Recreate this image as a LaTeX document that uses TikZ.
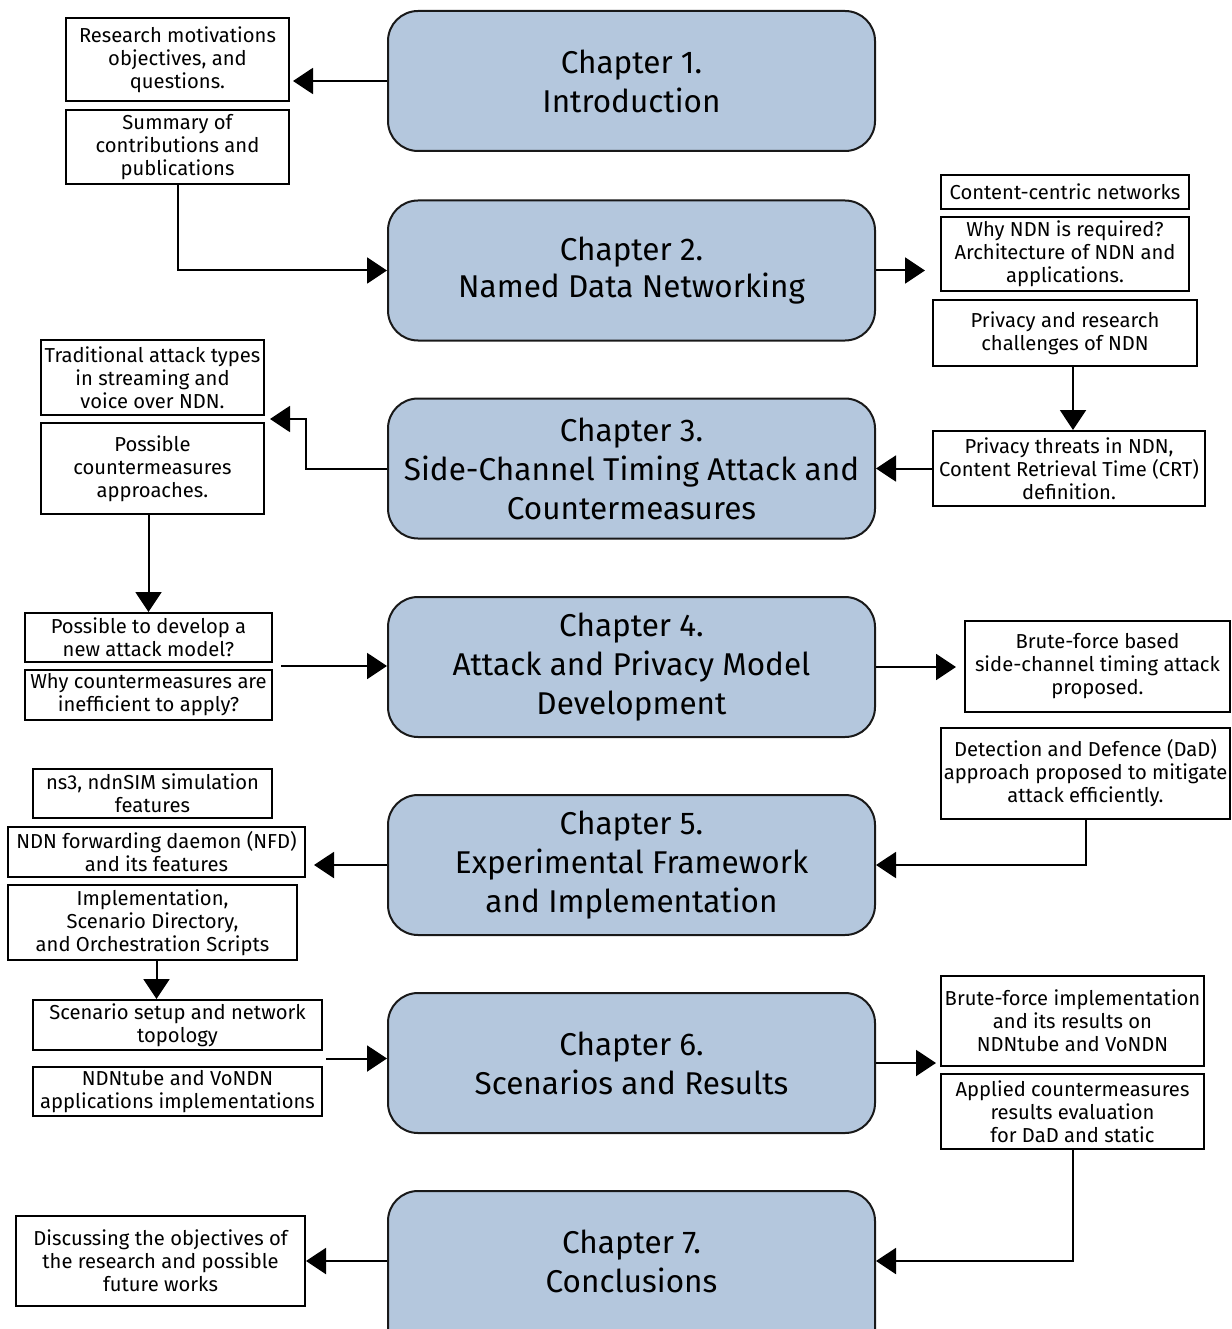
\documentclass[tikz,border=0pt]{standalone}
\usepackage{fontspec}
\setmainfont{Fira Sans}
\usetikzlibrary{arrows.meta,calc}
\definecolor{chapblue}{HTML}{B4C7DD}
\tikzset{
  chap/.style={draw=black!90, line width=2pt, fill=chapblue, rounded corners=30pt,
    minimum width=487pt, minimum height=140pt, inner sep=0pt, align=center,
    font=\fontsize{31.5}{39}\selectfont},
  chaptext/.style={inner sep=0pt, align=center, font=\fontsize{31.5}{39}\selectfont},
  sbox/.style={draw=black, line width=2pt, fill=white, inner sep=0pt, align=center,
    font=\fontsize{20.2}{23}\selectfont},
  arr/.style={line width=2pt, -{Triangle[length=20pt,width=26pt]}},
}
\begin{document}
\begin{tikzpicture}[x=1pt,y=-1pt]
\useasboundingbox (0,0) rectangle (1231,1329);

% chapter boxes
\node[chap] (c1) at (631.5,81) {Chapter 1.\\Introduction};
\node[chap] (c2) at (631.5,270.5) {Chapter 2.\\[-2pt]Named Data Networking};
\node[chap] (c3) at (631.5,468.5) {Chapter 3.\\Side-Channel Timing Attack and\\Countermeasures};
\node[chap] (c4) at (631.5,667) {Chapter 4.\\Attack and Privacy Model\\Development};
\node[chap] (c5) at (631.5,865) {Chapter 5.\\Experimental Framework\\and Implementation};
\node[chap] (c6) at (631.5,1063) {Chapter 6.\\Scenarios and Results};
\node[chap, minimum height=180pt] (c7) at (631.5,1281) {};
\node[chaptext] (c7t) at (631.5,1261) {Chapter 7.\\Conclusions};

% chapter 1
\node[sbox, minimum width=223pt, minimum height=83pt] (rm) at (177.5,59.5)
  {Research motivations\\objectives, and\\questions.};
\node[sbox, minimum width=223pt, minimum height=74pt] (sum) at (177.5,147)
  {Summary of\\contributions and\\publications};

% chapter 2
\node[sbox, minimum width=248pt, minimum height=34pt] (ccn) at (1065,192)
  {Content-centric networks};
\node[sbox, minimum width=248pt, minimum height=74pt] (why) at (1065,254)
  {Why NDN is required?\\Architecture of NDN and\\applications.};
\node[sbox, minimum width=264pt, minimum height=66pt] (priv) at (1065,333)
  {Privacy and research\\challenges of NDN};

% chapter 3
\node[sbox, minimum width=272pt, minimum height=75pt] (thr) at (1069,468.5)
  {Privacy threats in NDN,\\Content Retrieval Time (CRT)\\definition.};
\node[sbox, minimum width=223pt, minimum height=75pt] (trad) at (152.5,377.5)
  {Traditional attack types\\in streaming and\\voice over NDN.};
\node[sbox, minimum width=223pt, minimum height=91pt] (poss) at (152.5,468.5)
  {Possible\\countermeasures\\approaches.};

% chapter 4
\node[sbox, minimum width=247pt, minimum height=49pt] (dev) at (148.5,637.5)
  {Possible to develop a\\new attack model?};
\node[sbox, minimum width=247pt, minimum height=50pt] (ineff) at (148.5,695)
  {Why countermeasures are\\inefficient to apply?};
\node[sbox, minimum width=265pt, minimum height=91pt] (bf) at (1097.5,666.5)
  {Brute-force based\\side-channel timing attack\\proposed.};

% chapter 5
\node[sbox, minimum width=289pt, minimum height=91pt] (dad) at (1085.5,773.5)
  {Detection and Defence (DaD)\\approach proposed to mitigate\\attack efficiently.};
\node[sbox, minimum width=239pt, minimum height=49pt] (ns3) at (152.5,793.5)
  {ns3, ndnSIM simulation\\features};
\node[sbox, minimum width=297pt, minimum height=50pt] (nfd) at (156.5,852)
  {NDN forwarding daemon (NFD)\\and its features};
\node[sbox, minimum width=289pt, minimum height=75pt] (impl) at (152.5,922.5)
  {Implementation,\\Scenario Directory,\\and Orchestration Scripts};

% chapter 6
\node[sbox, minimum width=289pt, minimum height=50pt] (scen) at (177.5,1025)
  {Scenario setup and network\\topology};
\node[sbox, minimum width=289pt, minimum height=49pt] (apps) at (177.5,1091.5)
  {NDNtube and VoNDN\\applications implementations};
\node[sbox, minimum width=263pt, minimum height=90pt] (bfi) at (1072.5,1021)
  {Brute-force implementation\\and its results on\\NDNtube and VoNDN};
\node[sbox, minimum width=263pt, minimum height=75pt] (aplc) at (1072.5,1111.5)
  {Applied countermeasures\\results evaluation\\for DaD and static};

% chapter 7
\node[sbox, minimum width=289pt, minimum height=90pt] (disc) at (160.5,1261)
  {Discussing the objectives of\\the research and possible\\future works};

% connectors
\draw[arr, shorten >=3pt] (c1.west) -- (c1.west -| rm.east);
\draw[arr] (sum.south) |- (c2.west);
\draw[arr, shorten >=15pt] (c2.east) -- (c2.east -| why.west);
\draw[arr] ([xshift=8pt]priv.south) -- ([xshift=8pt]priv.south |- thr.north);
\draw[arr] (thr.west) -- (thr.west -| c3.east);
\coordinate (gap3) at ($(trad.south east)!0.5!(poss.north east)$);
\draw[arr, shorten >=5pt] (c3.west) -- ++(-81,0) |- (gap3);
\draw[arr] (poss.south -| dev.north) -- (dev.north);
\coordinate (gap4) at ($(dev.south east)!0.5!(ineff.north east)$);
\draw[arr, shorten <=8pt] (gap4) -- (gap4 -| c4.west);
\draw[arr, shorten >=8pt] (c4.east) -- (c4.east -| bf.west);
\draw[arr] (dad.south) |- (c5.east);
\draw[arr, shorten >=8pt] (c5.west) -- (c5.west -| nfd.east);
\draw[arr] ([xshift=4pt]impl.south) -- ([xshift=4pt]impl.south |- scen.north);
\coordinate (gap6) at ($(scen.south east)!0.5!(apps.north east)$);
\draw[arr, shorten <=3pt] (gap6) -- (gap6 -| c6.west);
\draw[arr, shorten >=4pt] (c6.east) -- (c6.east -| bfi.west);
\draw[arr] (aplc.south) |- (c7t -| c7.east);
\draw[arr] (c7t -| c7.west) -- (disc.east);
\end{tikzpicture}
\end{document}
